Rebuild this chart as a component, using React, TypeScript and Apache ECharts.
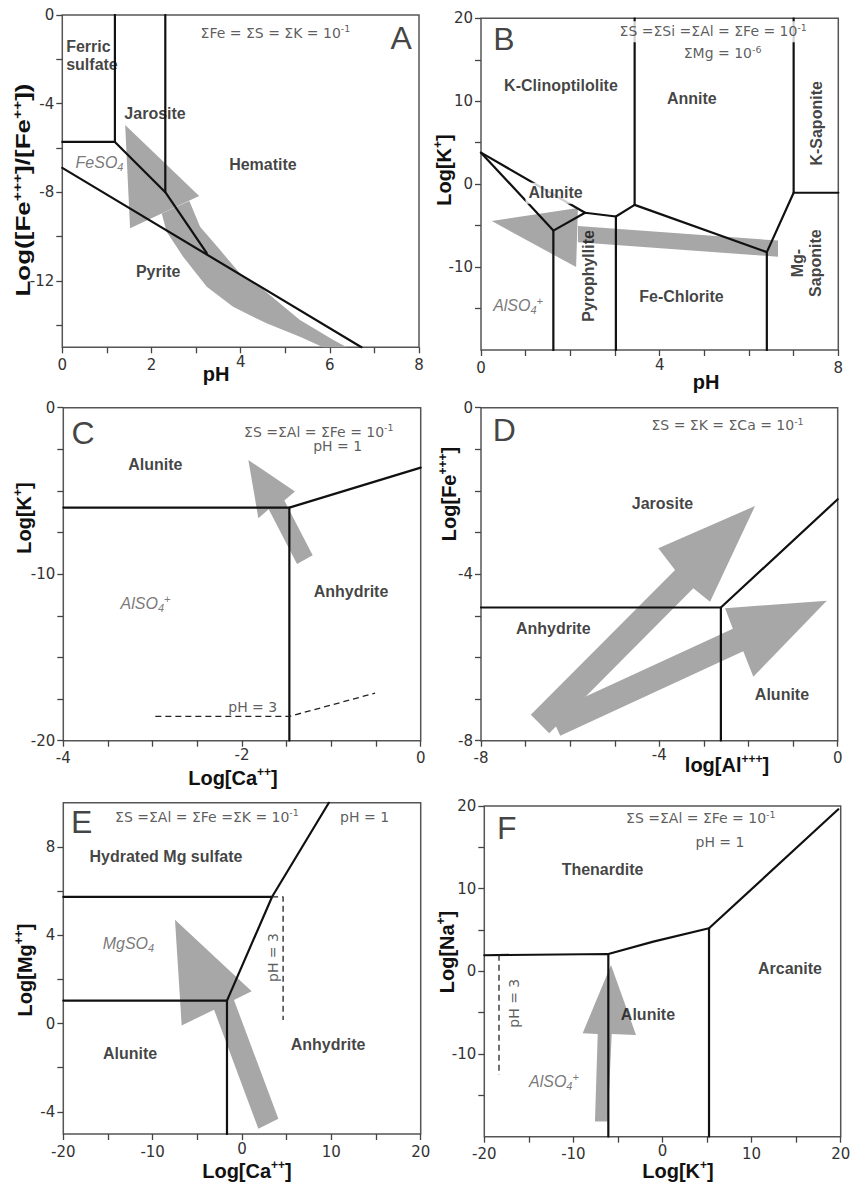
import React, { useEffect, useRef } from "react";
import * as echarts from "echarts";

type P = [number, number];
interface Lbl { t: string; x: number; y: number; rot?: number; bg?: boolean; left?: boolean }

// ---------------- Panel A ----------------
const aXRange: P = [0, 8];
const aYRange: P = [-15, 0];
const aXTicks = [0, 1, 2, 3, 4, 5, 6, 7, 8];
const aXLabels = [0, 2, 4, 6, 8];
const aYTicks = [-14, -12, -10, -8, -6, -4, -2, 0];
const aYLabels = [-12, -8, -4, 0];
const aLines: P[][] = [
  [[1.18, 0], [1.18, -5.73], [0, -5.73]],
  [[2.31, 0], [2.31, -8.0]],
  [[1.18, -5.73], [2.31, -8.0], [3.24, -10.75]],
  [[0, -6.9], [6.71, -15]],
];
const aDashed: P[][] = [];
const aShapes: P[][] = [
  [[1.41, -4.97], [3.07, -8.17], [1.52, -9.63]],
  [[2.85, -8.4], [3.09, -9.56], [3.54, -10.61], [3.98, -11.66], [4.43, -12.27], [5.33, -13.77], [6.08, -14.67], [6.38, -15], [5.85, -15], [5.33, -14.52], [4.58, -13.92], [3.83, -13.17], [3.24, -12.27], [2.71, -10.91], [2.34, -9.78], [2.23, -8.96]],
];
const aLabels: Lbl[] = [
  { t: "{b|Ferric}\n{b|sulfate}", x: 0.076, y: -1.83, left: true },
  { t: "{b|Jarosite}", x: 2.08, y: -4.45 },
  { t: "{i|FeSO}{isub|4}", x: 0.834, y: -6.68 },
  { t: "{b|Hematite}", x: 4.5, y: -6.77 },
  { t: "{b|Pyrite}", x: 2.15, y: -11.59 },
  { t: "{n|ΣFe = ΣS = ΣK = 10}{s|-1}", x: 4.78, y: -0.81 },
  { t: "{L|A}", x: 7.6, y: -1.06 },
];

// ---------------- Panel B ----------------
const bXRange: P = [0, 8];
const bYRange: P = [-20, 20];
const bXTicks = [0, 1, 2, 3, 4, 5, 6, 7, 8];
const bXLabels = [0, 4, 8];
const bYTicks = [-15, -10, -5, 0, 5, 10, 15, 20];
const bYLabels = [-10, 0, 10, 20];
const bLines: P[][] = [
  [[3.44, 20], [3.44, -2.5]],
  [[7.0, 20], [7.0, -1.04], [8, -1.04]],
  [[7.0, -1.04], [6.4, -8.2], [6.4, -20]],
  [[3.44, -2.5], [6.4, -8.2]],
  [[3.44, -2.5], [3.02, -3.9], [3.02, -20]],
  [[3.02, -3.9], [2.33, -3.45], [1.62, -5.6], [1.62, -20]],
  [[0, 3.8], [1.62, -5.6]],
  [[0, 3.8], [2.33, -3.45]],
];
const bDashed: P[][] = [];
const bShapes: P[][] = [
  [[0.24, -4.45], [2.17, -2.88], [2.13, -10.0]],
  [[2.17, -5.06], [6.65, -6.8], [6.65, -8.75], [2.17, -7.0]],
];
const bLabels: Lbl[] = [
  { t: "{L|B}", x: 0.515, y: 17.5 },
  { t: "{n|ΣS =ΣSi =ΣAl = ΣFe = 10}{s|-1}", x: 5.2, y: 18.38, bg: true },
  { t: "{n|ΣMg = 10}{s|-6}", x: 5.41, y: 15.78 },
  { t: "{b|K-Clinoptilolite}", x: 1.79, y: 11.95 },
  { t: "{b|Annite}", x: 4.72, y: 10.35 },
  { t: "{b|K-Saponite}", x: 7.51, y: 7.33, rot: 90 },
  { t: "{b|Alunite}", x: 1.67, y: -1.11, bg: true },
  { t: "{b|Pyrophyllite}", x: 2.4, y: -11.06, rot: 90 },
  { t: "{b|Fe-Chlorite}", x: 4.49, y: -13.58 },
  { t: "{b|Mg-}\n{b|Saponite}", x: 7.28, y: -9.52, rot: 90 },
  { t: "{i|AlSO}{isub|4}{isup|+}", x: 0.83, y: -14.58 },
];

// ---------------- Panel C ----------------
const cXRange: P = [-4, 0];
const cYRange: P = [-20, 0];
const cXTicks = [-4, -3.5, -3, -2.5, -2, -1.5, -1, -0.5, 0];
const cXLabels = [-4, -2, 0];
const cYTicks = [-20, -17.5, -15, -12.5, -10, -7.5, -5, -2.5, 0];
const cYLabels = [-20, -10, 0];
const cLines: P[][] = [
  [[-4, -6.0], [-1.47, -6.0], [-1.47, -20]],
  [[-1.47, -6.0], [0, -3.6]],
];
const cDashed: P[][] = [
  [[-2.97, -18.54], [-1.47, -18.54], [-0.51, -17.14]],
];
const cShapes: P[][] = [
  [[-1.929, -3.14], [-1.407, -5.04], [-1.526, -5.58], [-1.209, -8.86], [-1.384, -9.38], [-1.701, -6.1], [-1.817, -6.64]],
];
const cLabels: Lbl[] = [
  { t: "{L|C}", x: -3.78, y: -1.54 },
  { t: "{n|ΣS =ΣAl = ΣFe = 10}{s|-1}", x: -1.14, y: -1.45 },
  { t: "{n|pH = 1}", x: -0.93, y: -2.32 },
  { t: "{b|Alunite}", x: -2.97, y: -3.44 },
  { t: "{i|AlSO}{isub|4}{isup|+}", x: -3.08, y: -11.75 },
  { t: "{b|Anhydrite}", x: -0.78, y: -11.05 },
  { t: "{p|pH = 3}", x: -1.88, y: -17.96 },
];

// ---------------- Panel D ----------------
const dXRange: P = [-8, 0];
const dYRange: P = [-8, 0];
const dXTicks = [-8, -7, -6, -5, -4, -3, -2, -1, 0];
const dXLabels = [-8, -4, 0];
const dYTicks = [-8, -7, -6, -5, -4, -3, -2, -1, 0];
const dYLabels = [-8, -4, 0];
const dLines: P[][] = [
  [[-8, -4.8], [-2.62, -4.8], [-2.62, -8]],
  [[-2.62, -4.8], [0, -2.2]],
];
const dDashed: P[][] = [];
const dShapes: P[][] = [
  [[-1.854, -2.361], [-2.863, -4.66], [-3.238, -4.338], [-6.47, -7.819], [-6.883, -7.377], [-3.648, -3.899], [-4.023, -3.377]],
  [[-0.245, -4.636], [-1.892, -6.462], [-2.118, -5.854], [-6.223, -7.881], [-6.457, -7.334], [-2.352, -5.309], [-2.527, -4.819]],
];
const dLabels: Lbl[] = [
  { t: "{L|D}", x: -7.48, y: -0.54 },
  { t: "{n|ΣS = ΣK = ΣCa = 10}{s|-1}", x: -2.47, y: -0.42 },
  { t: "{b|Jarosite}", x: -3.93, y: -2.3 },
  { t: "{b|Anhydrite}", x: -6.38, y: -5.3 },
  { t: "{b|Alunite}", x: -1.25, y: -6.9 },
];

// ---------------- Panel E ----------------
const eXRange: P = [-20, 20];
const eYRange: P = [-5, 10];
const eXTicks = [-20, -15, -10, -5, 0, 5, 10, 15, 20];
const eXLabels = [-20, -10, 0, 10, 20];
const eYTicks = [-4, -2, 0, 2, 4, 6, 8];
const eYLabels = [-4, 0, 4, 8];
const eLines: P[][] = [
  [[-20, 5.74], [3.37, 5.74]],
  [[-20, 1.04], [-1.68, 1.04], [-1.68, -5]],
  [[-1.68, 1.04], [3.37, 5.74], [9.72, 10]],
];
const eDashed: P[][] = [
  [[3.37, 5.74], [4.6, 5.74], [4.6, 0.16]],
];
const eShapes: P[][] = [
  [[-7.5, 4.7], [1.08, 1.46], [-0.9, 1.07], [4.07, -4.31], [1.83, -4.76], [-3.13, 0.63], [-6.75, -0.09]],
];
const eLabels: Lbl[] = [
  { t: "{L|E}", x: -17.94, y: 9.14 },
  { t: "{n|ΣS =ΣAl = ΣFe =ΣK = 10}{s|-1}", x: -3.92, y: 9.37 },
  { t: "{n|pH = 1}", x: 13.72, y: 9.37 },
  { t: "{b|Hydrated Mg sulfate}", x: -8.51, y: 7.56 },
  { t: "{i|MgSO}{isub|4}", x: -12.71, y: 3.64 },
  { t: "{p|pH = 3}", x: 3.48, y: 2.99, rot: 90 },
  { t: "{b|Alunite}", x: -12.52, y: -1.34 },
  { t: "{b|Anhydrite}", x: 9.63, y: -0.97 },
];

// ---------------- Panel F ----------------
const fXRange: P = [-20, 20];
const fYRange: P = [-20, 20];
const fXTicks = [-20, -15, -10, -5, 0, 5, 10, 15, 20];
const fXLabels = [-20, -10, 0, 10, 20];
const fYTicks = [-15, -10, -5, 0, 5, 10, 15, 20];
const fYLabels = [-10, 0, 10, 20];
const fLines: P[][] = [
  [[-20, 1.95], [-6.08, 2.1], [-6.08, -20]],
  [[-6.08, 2.1], [-1.03, 3.59], [5.22, 5.21], [19.73, 19.6]],
  [[5.22, 5.21], [5.22, -20]],
];
const fDashed: P[][] = [
  [[-18.35, 2.0], [-18.35, -12.53]],
];
const fShapes: P[][] = [
  [[-5.78, 0.77], [-2.97, -7.69], [-5.7, -7.57], [-6.15, -18.17], [-7.58, -18.17], [-7.27, -7.57], [-8.96, -7.49]],
];
const fLabels: Lbl[] = [
  { t: "{L|F}", x: -17.49, y: 17.3 },
  { t: "{n|ΣS =ΣAl = ΣFe = 10}{s|-1}", x: 4.3, y: 18.51 },
  { t: "{n|pH = 1}", x: 6.45, y: 15.68 },
  { t: "{b|Thenardite}", x: -6.73, y: 12.26 },
  { t: "{b|Arcanite}", x: 14.31, y: 0.37 },
  { t: "{b|Alunite}", x: -1.63, y: -5.19 },
  { t: "{p|pH = 3}", x: -16.63, y: -3.86, rot: 90 },
  { t: "{i|AlSO}{isub|4}{isup|+}", x: -12.18, y: -13.34 },
];

// x tick label that sits slightly higher (next to the axis title) in each panel
const raisedXLabel = [4, 4, -2, -4, 0, 0];

// ---------------- Axis titles ----------------
const xTitles = [
  "{t|pH}",
  "{t|pH}",
  "{t|Log[Ca}{u|++}{t|]}",
  "{t|log[Al}{u|+++}{t|]}",
  "{t|Log[Ca}{u|++}{t|]}",
  "{t|Log[K}{u|+}{t|]}",
];
const yTitles = [
  "{t|Log([Fe}{u|+++}{t|]/[Fe}{u|++}{t|])}",
  "{t|Log[K}{u|+}{t|]}",
  "{t|Log[K}{u|+}{t|]}",
  "{t|Log[Fe}{u|+++}{t|]}",
  "{t|Log[Mg}{u|++}{t|]}",
  "{t|Log[Na}{u|+}{t|]}",
];

// layout (pixels)
const GRIDS = [
  { left: 62.3, top: 15, width: 356.7, height: 332.3 },
  { left: 481, top: 18.3, width: 357.3, height: 331.7 },
  { left: 63.3, top: 407.7, width: 357.4, height: 333 },
  { left: 481, top: 407.7, width: 356.7, height: 333 },
  { left: 63.3, top: 802.7, width: 357.4, height: 331.3 },
  { left: 484.3, top: 806, width: 356.4, height: 330.7 },
];
const X_TITLE_POS: P[] = [[216, 374], [706, 382], [233, 778], [727, 765], [247, 1171], [678, 1171]];
const Y_TITLE_POS: P[] = [[23.5, 190], [443.5, 170], [23.5, 518], [448.5, 494], [25, 970], [446.5, 952]];
const Y_TITLE_STRETCH = [1.3, 1, 1, 1, 1, 1];

const GRAY = "#a7a7a7";
const INK = "#111";

const RICH: any = {
  b: { fontFamily: "Liberation Sans", fontWeight: "bold", fontSize: 16, color: INK, lineHeight: 18 },
  n: { fontFamily: "DejaVu Sans", fontSize: 14, color: "#333", lineHeight: 18 },
  s: { fontFamily: "DejaVu Sans", fontSize: 9.5, color: "#333", verticalAlign: "top", lineHeight: 10 },
  i: { fontFamily: "Liberation Sans", fontStyle: "italic", fontSize: 16, color: "#555", lineHeight: 20 },
  isub: { fontFamily: "Liberation Sans", fontStyle: "italic", fontSize: 11, color: "#555", verticalAlign: "bottom", lineHeight: 11 },
  isup: { fontFamily: "Liberation Sans", fontStyle: "italic", fontSize: 11, color: "#555", verticalAlign: "top", lineHeight: 11 },
  L: { fontFamily: "Liberation Sans", fontSize: 32, color: INK, lineHeight: 34 },
  p: { fontFamily: "DejaVu Sans", fontSize: 14, color: "#333", lineHeight: 18 },
};
const TITLE_RICH: any = {
  t: { fontFamily: "Liberation Sans", fontWeight: "bold", fontSize: 20, fill: INK, color: INK, lineHeight: 24 },
  u: { fontFamily: "Liberation Sans", fontWeight: "bold", fontSize: 12, fill: INK, color: INK, verticalAlign: "top", lineHeight: 12 },
};
const TICK_FONT = { fontFamily: "DejaVu Sans", fontSize: 15, color: "#333" };

const PANELS = [
  { xr: aXRange, yr: aYRange, xt: aXTicks, xl: aXLabels, yt: aYTicks, yl: aYLabels, lines: aLines, dashed: aDashed, shapes: aShapes, labels: aLabels },
  { xr: bXRange, yr: bYRange, xt: bXTicks, xl: bXLabels, yt: bYTicks, yl: bYLabels, lines: bLines, dashed: bDashed, shapes: bShapes, labels: bLabels },
  { xr: cXRange, yr: cYRange, xt: cXTicks, xl: cXLabels, yt: cYTicks, yl: cYLabels, lines: cLines, dashed: cDashed, shapes: cShapes, labels: cLabels },
  { xr: dXRange, yr: dYRange, xt: dXTicks, xl: dXLabels, yt: dYTicks, yl: dYLabels, lines: dLines, dashed: dDashed, shapes: dShapes, labels: dLabels },
  { xr: eXRange, yr: eYRange, xt: eXTicks, xl: eXLabels, yt: eYTicks, yl: eYLabels, lines: eLines, dashed: eDashed, shapes: eShapes, labels: eLabels },
  { xr: fXRange, yr: fYRange, xt: fXTicks, xl: fXLabels, yt: fYTicks, yl: fYLabels, lines: fLines, dashed: fDashed, shapes: fShapes, labels: fLabels },
];

function makeAxis(i: number, range: P, ticks: number[], labels: number[], dim: "x" | "y") {
  const axisLabel: any = {
    show: true,
    customValues: labels,
    margin: dim === "x" ? 7 : 8,
    ...TICK_FONT,
    showMinLabel: true,
    showMaxLabel: true,
  };
  if (dim === "x") {
    axisLabel.formatter = (v: number) => (v === raisedXLabel[i] ? "{r|" + v + "}" : "{d|" + v + "}");
    axisLabel.rich = {
      d: { ...TICK_FONT, padding: [3, 0, 0, 0] },
      r: { ...TICK_FONT, padding: [0, 0, 0, 0] },
    };
  }
  return {
    type: "value",
    gridIndex: i,
    min: range[0],
    max: range[1],
    axisLine: { show: false, onZero: false },
    axisTick: { show: true, inside: false, length: 6, customValues: ticks, lineStyle: { color: "#444", width: 1.3 } },
    axisLabel,
    splitLine: { show: false },
  };
}

function buildOption() {
  const series: any[] = [];
  PANELS.forEach((p, gi) => {
    p.shapes.forEach((pts) => {
      series.push({
        type: "custom",
        xAxisIndex: gi,
        yAxisIndex: gi,
        silent: true,
        z: 1,
        data: pts,
        encode: { x: 0, y: 1 },
        renderItem: (params: any, api: any) => {
          if (params.dataIndex !== 0) return null;
          return {
            type: "polygon",
            shape: { points: pts.map((q) => api.coord(q)) },
            style: { fill: GRAY, stroke: null },
          };
        },
      });
    });
    p.lines.forEach((pts) => {
      series.push({
        type: "line",
        xAxisIndex: gi,
        yAxisIndex: gi,
        data: pts,
        symbol: "none",
        silent: true,
        z: 3,
        lineStyle: { color: INK, width: 2.2, cap: "round", join: "round" },
      });
    });
    p.dashed.forEach((pts) => {
      series.push({
        type: "line",
        xAxisIndex: gi,
        yAxisIndex: gi,
        data: pts,
        symbol: "none",
        silent: true,
        z: 3,
        lineStyle: { color: "#222", width: 1.3, type: [6, 4] },
      });
    });
    series.push({
      type: "scatter",
      xAxisIndex: gi,
      yAxisIndex: gi,
      symbolSize: 1,
      silent: true,
      z: 5,
      itemStyle: { color: "rgba(0,0,0,0)" },
      label: {
        show: true,
        position: "inside",
        formatter: (prm: any) => prm.data.txt,
        rich: RICH,
      },
      data: p.labels.map((l) => {
        const lab: any = {};
        if (l.rot) lab.rotate = l.rot;
        if (l.bg) {
          lab.backgroundColor = "#fff";
          lab.padding = [1, 3, 2, 3];
        }
        if (l.left) {
          lab.position = "right";
          lab.distance = 0;
          lab.align = "left";
        }
        return { value: [l.x, l.y], txt: l.t, label: lab };
      }),
    });
  });

  const graphic: any[] = [];
  xTitles.forEach((t, i) => {
    graphic.push({
      type: "text",
      x: X_TITLE_POS[i][0],
      y: X_TITLE_POS[i][1],
      silent: true,
      style: { text: t, rich: TITLE_RICH, align: "center", verticalAlign: "middle", textAlign: "center", textVerticalAlign: "middle" },
    });
  });
  yTitles.forEach((t, i) => {
    graphic.push({
      type: "text",
      x: Y_TITLE_POS[i][0],
      y: Y_TITLE_POS[i][1],
      rotation: Math.PI / 2,
      scaleX: Y_TITLE_STRETCH[i],
      silent: true,
      style: { text: t, rich: TITLE_RICH, align: "center", verticalAlign: "middle", textAlign: "center", textVerticalAlign: "middle" },
    });
  });

  return {
    animation: false,
    backgroundColor: "#fff",
    grid: GRIDS.map((g) => ({ ...g, show: true, borderColor: "#555", borderWidth: 1.5, backgroundColor: "#fff", containLabel: false })),
    xAxis: PANELS.map((p, i) => makeAxis(i, p.xr, p.xt, p.xl, "x")),
    yAxis: PANELS.map((p, i) => makeAxis(i, p.yr, p.yt, p.yl, "y")),
    series,
    graphic,
  };
}

export default function App() {
  const ref = useRef<HTMLDivElement>(null);
  useEffect(() => {
    document.body.style.margin = "0";
    if (!ref.current) return;
    const chart = echarts.init(ref.current, undefined, { renderer: "svg" });
    chart.setOption(buildOption() as any);
    return () => chart.dispose();
  }, []);
  return <div ref={ref} style={{ position: "absolute", left: 0, top: 0, width: 857, height: 1182, background: "#fff" }} />;
}
